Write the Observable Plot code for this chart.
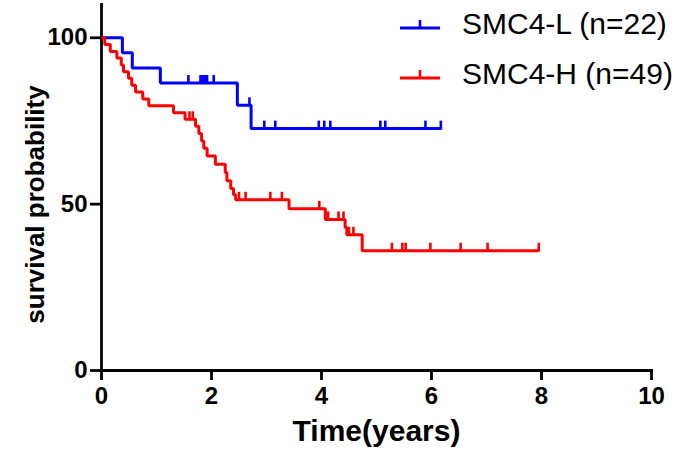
<!DOCTYPE html>
<html>
<head>
<meta charset="utf-8">
<script src="https://cdn.jsdelivr.net/npm/d3@7"></script>
<script src="https://cdn.jsdelivr.net/npm/@observablehq/plot@0.6"></script>
<style>
  html, body { margin: 0; padding: 0; background: #fff; }
  #wrap { position: relative; width: 675px; height: 458px; font-family: "Liberation Sans", Arial, sans-serif; }
  #legend { position: absolute; left: 398px; top: -1px; }
  .row { display: flex; align-items: center; height: 50px; font-size: 30px; color: #000; }
  .row svg { margin-right: 20px; }
</style>
</head>
<body>
<div id="wrap"></div>
<script>
// ---- data ----
const xTicks = [0, 2, 4, 6, 8, 10];
const yTicks = [0, 50, 100];

const seriesNames = ["SMC4-L (n=22)", "SMC4-H (n=49)"];
const seriesColors = ["#0000FF", "#FF0000"];

// SMC4-L step curve
const lowTimes = [0, 0.38, 0.56, 1.07, 2.47, 2.72, 6.17];
const lowSurv  = [100, 95.5, 90.9, 86.4, 79.7, 72.7, 72.7];
// SMC4-L censor marks
const lowCensorTimes = [1.58, 1.80, 1.84, 1.88, 1.92, 2.04, 2.69, 2.96, 3.16, 3.95, 4.05, 4.16, 5.07, 5.16, 5.89, 6.17];
const lowCensorSurv  = [86.4, 86.4, 86.4, 86.4, 86.4, 86.4, 79.7, 72.7, 72.7, 72.7, 72.7, 72.7, 72.7, 72.7, 72.7, 72.7];

// SMC4-H step curve
const highTimes = [0, 0.06, 0.16, 0.28, 0.36, 0.40, 0.49, 0.55, 0.62, 0.75, 0.86, 1.31, 1.52, 1.71, 1.77, 1.82, 1.86, 1.92, 2.07, 2.25, 2.28, 2.35, 2.40, 2.44, 3.41, 4.07, 4.43, 4.46, 4.74, 7.95];
const highSurv  = [100, 98.0, 95.9, 93.9, 91.8, 89.8, 87.8, 85.7, 83.7, 81.6, 79.6, 77.5, 75.5, 73.4, 71.2, 69.0, 66.8, 64.5, 62.0, 59.5, 57.0, 54.7, 52.8, 51.3, 48.6, 45.4, 43.0, 40.8, 36.0, 36.0];
// SMC4-H censor marks
const highCensorTimes = [1.60, 1.66, 2.50, 2.62, 3.07, 3.28, 3.96, 4.12, 4.31, 4.40, 4.50, 4.58, 5.28, 5.47, 5.53, 5.98, 6.53, 7.02, 7.95];
const highCensorSurv  = [75.5, 75.5, 51.3, 51.3, 51.3, 51.3, 48.6, 45.4, 45.4, 45.4, 40.8, 40.8, 36.0, 36.0, 36.0, 36.0, 36.0, 36.0, 36.0];

// ---- build tables ----
const toRows = (ts, ss, group) => ts.map((t, i) => ({t, s: ss[i], group}));
const curveRows = [
  ...toRows(lowTimes, lowSurv, seriesNames[0]),
  ...toRows(highTimes, highSurv, seriesNames[1])
];
const censorRows = [
  ...toRows(lowCensorTimes, lowCensorSurv, seriesNames[0]),
  ...toRows(highCensorTimes, highCensorSurv, seriesNames[1])
];

const upTick = {draw(ctx) { ctx.moveTo(0, 1); ctx.lineTo(0, -8); }};

const chart = Plot.plot({
  width: 675,
  height: 458,
  marginLeft: 101,
  marginRight: 24,
  marginTop: 4,
  marginBottom: 88,
  style: {fontFamily: "'Liberation Sans', Arial, sans-serif", fontWeight: "bold", color: "#000", background: "#fff"},
  x: {domain: [0, 10]},
  y: {domain: [0, 110]},
  color: {domain: seriesNames, range: seriesColors},
  marks: [
    Plot.frame({anchor: "left", stroke: "#000", strokeWidth: 2.8}),
    Plot.frame({anchor: "bottom", stroke: "#000", strokeWidth: 2.8}),
    Plot.axisX({ticks: xTicks, tickSize: 10, tickPadding: 6, strokeWidth: 2.8, fontSize: 24, label: null, tickFormat: d => String(d)}),
    Plot.axisY({ticks: yTicks, tickSize: 11, tickPadding: 3, strokeWidth: 2.8, fontSize: 24, label: null, tickFormat: d => String(d)}),
    Plot.line(curveRows, {x: "t", y: "s", z: "group", stroke: "group", curve: "step-after", strokeWidth: 3, strokeLinejoin: "miter", strokeLinecap: "butt"}),
    Plot.dot(censorRows, {x: "t", y: "s", stroke: "group", symbol: upTick, fill: "none", strokeWidth: 2.6}),
    Plot.text(["Time(years)"], {frameAnchor: "bottom", dy: 70, fontSize: 30, fontWeight: "bold", fill: "#000"}),
    Plot.text(["survival probability"], {frameAnchor: "left", textAnchor: "middle", dx: -66, dy: 17, rotate: -90, fontSize: 26, fontWeight: "bold", fill: "#000"})
  ]
});

const wrap = document.getElementById("wrap");
wrap.appendChild(chart);

// legend
const legend = document.createElement("div");
legend.id = "legend";
seriesNames.forEach((name, i) => {
  const row = document.createElement("div");
  row.className = "row";
  const svg = d3.create("svg").attr("width", 44).attr("height", 20);
  svg.append("line").attr("x1", 2).attr("x2", 42).attr("y1", 14).attr("y2", 14)
    .attr("stroke", seriesColors[i]).attr("stroke-width", 3);
  svg.append("line").attr("x1", 22).attr("x2", 22).attr("y1", 14).attr("y2", 6)
    .attr("stroke", seriesColors[i]).attr("stroke-width", 2.6);
  row.appendChild(svg.node());
  const span = document.createElement("span");
  span.textContent = name;
  row.appendChild(span);
  legend.appendChild(row);
});
wrap.appendChild(legend);
</script>
</body>
</html>
